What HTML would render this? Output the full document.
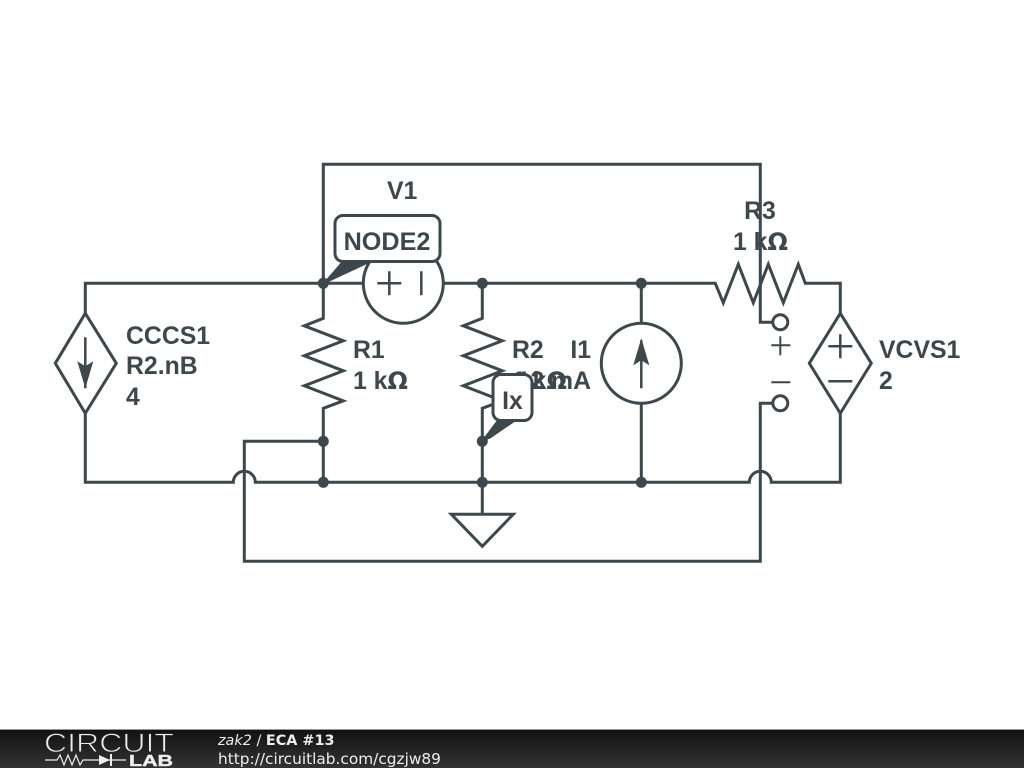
<!DOCTYPE html>
<html><head><meta charset="utf-8"><style>
html,body{margin:0;padding:0;background:#fff;width:1024px;height:768px;overflow:hidden}
svg{display:block}
text{font-family:"Liberation Sans",sans-serif}
.l{font-size:24.800px;font-weight:700;fill:#3e474c}
.o{font-family:"DejaVu Sans",sans-serif;font-size:24px}
.f{font-family:"DejaVu Sans",sans-serif;fill:#eee}
</style></head><body>
<svg width="1024" height="768" viewBox="0 0 1024 768" xmlns="http://www.w3.org/2000/svg">
<defs><linearGradient id="g" x1="0" y1="0" x2="0" y2="1"><stop offset="0" stop-color="#111"/><stop offset="1" stop-color="#333"/></linearGradient></defs>
<rect width="1024" height="768" fill="#fff"/>
<g transform="translate(.3 .3)">
<g fill="none" stroke="#3e474c" stroke-width="3">
<path d="M323 283V164H760V230"/>
<path d="M760 230V322H772"/>
<path d="M85 313V283H363M443 283H715L723 302.500L738 264L753 302.500L768 264L783 302.500L798 264L805 283H840V313"/>
<path d="M840 313L809 363L840 413L871 363Z"/>
<path d="M85 313L55 363L85 413L116 363Z"/>
<path d="M85 413V482H233A11 11 0 0 1 255 482H749A11 11 0 0 1 771 482H840V413"/>
<path d="M323 283V318L304 325.500L343 340.500L304 355.500L343 370.500L304 385.500L343 400.500L323 408V482"/>
<path d="M482 283V318L463 325.500L502 340.500L463 355.500L502 370.500L463 385.500L502 400.500L482 408V514"/>
<path d="M323 441H244V561H760V403H772"/>
<path d="M641 283V323M641 403V482"/>
<circle cx="403" cy="283" r="40"/>
<circle cx="641" cy="363" r="40"/>
<circle cx="780" cy="322" r="7.500"/>
<circle cx="780" cy="403" r="7.500"/>
<path d="M451 514H513L482 546Z"/>
<path d="M377 283H401M389 271V295M421 271V295" stroke-width="2.500"/>
<path d="M771 345H790M780 336V355M771 382H790" stroke-width="2"/>
<path d="M828 346H852M840 334V358M828 381H852" stroke-width="2.500"/>
<path d="M85 337V388M641 388V340" stroke-width="2.500"/>
</g>
<path d="M77 361L85 388L93 361L85 366Z" fill="#3e474c"/>
<path d="M633 365L641 338L649 365L641 360Z" fill="#3e474c"/>
<g fill="#3e474c">
<circle cx="323" cy="283" r="5.500"/><circle cx="482" cy="283" r="5.500"/><circle cx="641" cy="283" r="5.500"/>
<circle cx="323" cy="441" r="5.500"/><circle cx="482" cy="441" r="5.500"/>
<circle cx="323" cy="482" r="5.500"/><circle cx="482" cy="482" r="5.500"/><circle cx="641" cy="482" r="5.500"/>
</g>
</g>
<text class="l" x="387" y="199">V1</text>
<text class="l" x="405" y="235" text-anchor="middle">12 V</text>
<text class="l" x="760" y="219" text-anchor="middle">R3</text>
<text class="l" x="733" y="250">1 k<tspan class="o">Ω</tspan></text>
<text class="l" x="126" y="344">CCCS1</text>
<text class="l" x="126" y="374">R2.nB</text>
<text class="l" x="126" y="405">4</text>
<text class="l" x="353" y="358">R1</text>
<text class="l" x="353" y="389">1 k<tspan class="o">Ω</tspan></text>
<text class="l" x="512" y="358">R2</text>
<text class="l" x="512" y="389">1 k<tspan class="o">Ω</tspan></text>
<text class="l" x="591" y="358" text-anchor="end">I1</text>
<text class="l" x="591" y="389" text-anchor="end">12 mA</text>
<text class="l" x="879" y="358">VCVS1</text>
<text class="l" x="879" y="389">2</text>
<path d="M323 284L342 262H370L340 276Z" fill="#3e474c" stroke="#3e474c"/>
<rect x="335" y="215.500" width="105" height="46" rx="8" fill="#fff" stroke="#3e474c" stroke-width="3"/>
<text class="l" x="387" y="250" text-anchor="middle" style="font-size:25.200px">NODE2</text>
<path d="M482 441L497 421H515L490 438Z" fill="#3e474c" stroke="#3e474c"/>
<rect x="493" y="374.500" width="39" height="46" rx="8" fill="#fff" stroke="#3e474c" stroke-width="3"/>
<text class="l" x="512.500" y="409" text-anchor="middle">Ix</text>
<rect x="0" y="729" width="1024" height="39" fill="url(#g)"/>
<rect x="0" y="729" width="1024" height="1" fill="#999"/>
<text x="44" y="752" font-size="27" textLength="130" lengthAdjust="spacingAndGlyphs" fill="#eee" stroke="#222" stroke-width=".9">CIRCUIT</text>
<text x="129" y="766" font-size="15.500" font-weight="700" textLength="44" lengthAdjust="spacingAndGlyphs" fill="#eee" stroke="#eee" stroke-width=".4">LAB</text>
<path d="M45 760H57L60 755L64 765L68 755L72 765L76 755L80 765L83 760H126" fill="none" stroke="#eee" stroke-width="1.200"/>
<path d="M99 755V765L110 760Z" fill="#eee"/><path d="M111 754V766" stroke="#eee" stroke-width="2"/>
<text class="f" x="218" y="745" font-size="14.400"><tspan font-style="italic">zak2</tspan> / <tspan font-weight="700">ECA #13</tspan></text>
<text class="f" x="218" y="764" font-size="15.350">http://circuitlab.com/cgzjw89</text>
</svg>
</body></html>
